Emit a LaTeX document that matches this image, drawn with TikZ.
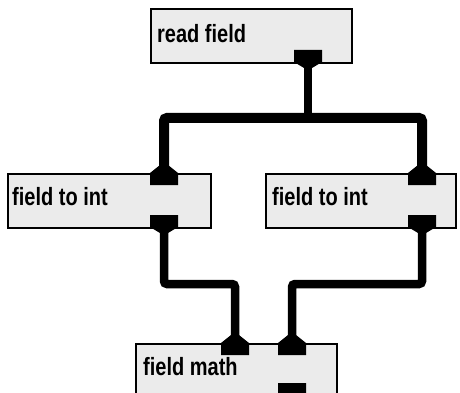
\documentclass[tikz,border=0pt]{standalone}
\usepackage{fontspec}
\setmainfont{Liberation Sans}
\usepackage{tikz}
\usetikzlibrary{positioning}

\newcommand{\narrowtext}[1]{\scalebox{0.8}[1]{#1}}

\begin{document}
\begin{tikzpicture}[
    x=1pt, y=-1pt,
    block/.style={rectangle, draw=black, line width=2pt, fill=black!8, inner sep=0pt, anchor=north west},
    blocktext/.style={inner sep=0pt, anchor=base west, font=\fontsize{25}{25}\selectfont\bfseries},
    wire/.style={line width=8.5pt, rounded corners=3pt},
    outport/.pic={\fill (-14,-12) -- (14,-12) -- (14,0) -- (4,6) -- (-4,6) -- (-14,0) -- cycle;
                  \coordinate (-tip) at (0,5);},
    inport/.pic={\fill (-14,12) -- (14,12) -- (14,0) -- (4,-8) -- (-4,-8) -- (-14,0) -- cycle;
                 \coordinate (-tip) at (0,-7);}
]
\useasboundingbox (0,0) rectangle (460,393);

% Blocks
\node[block, minimum width=201pt, minimum height=54pt] (read) at (150,8) {};
\node[blocktext] (readtext) at (157,43) {\narrowtext{read field}};

\node[block, minimum width=203pt, minimum height=54pt] (left) at (7,173) {};
\node[blocktext] (lefttext) at (12,205) {\narrowtext{field to int}};

\node[block, minimum width=190pt, minimum height=54pt] (right) at (265,173) {};
\node[blocktext] (righttext) at (272,205) {\narrowtext{field to int}};

\node[block, minimum width=201pt, minimum height=52pt] (math) at (135,343) {};
\node[blocktext] (mathtext) at (143,375) {\narrowtext{field math}};

% Ports
\pic (readout) at (308,62) {outport};
\pic (leftin) at (164,173) {inport};
\pic (leftout) at (164,227) {outport};
\pic (rightin) at (422,173) {inport};
\pic (rightout) at (422,227) {outport};
\pic (mathin1) at (235,343) {inport};
\pic (mathin2) at (292,343) {inport};
\pic (mathout) at (292,395) {outport};

% Wires
\coordinate (bus) at (0,118);
\coordinate (mid) at (0,284);
\draw[wire] (readout-tip) -- (readout-tip |- bus);
\draw[wire, line width=10pt] (leftin-tip) -- (leftin-tip |- bus) -- (rightin-tip |- bus) -- (rightin-tip);
\draw[wire] (leftout-tip) -- (leftout-tip |- mid) -- (mathin1-tip |- mid) -- (mathin1-tip);
\draw[wire] (rightout-tip) -- (rightout-tip |- mid) -- (mathin2-tip |- mid) -- (mathin2-tip);

\end{tikzpicture}
\end{document}
